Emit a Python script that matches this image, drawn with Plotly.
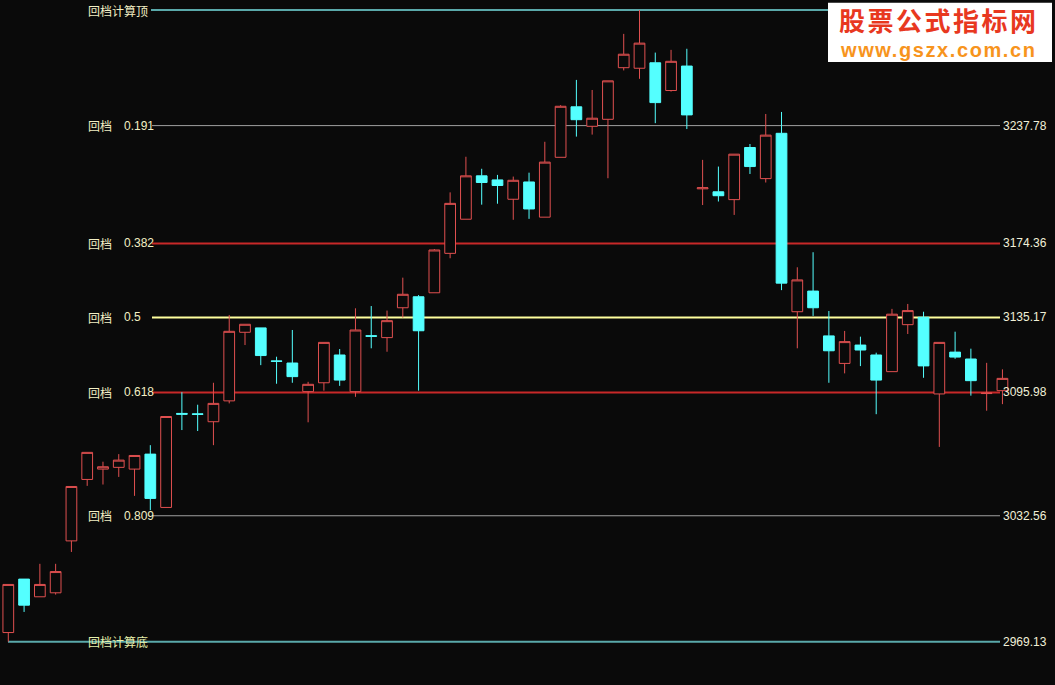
import math
import plotly.graph_objects as go

# ---- data ----
opens = [2973.7, 3000.5, 2991.6, 2993.6, 3019.8, 3051.1, 3056.4, 3057.3, 3056.4, 3064.1,
         3036.8, 3085.1, 3084.9, 3080.8, 3091.6, 3127.4, 3129.7, 3112.4, 3111.3, 3096.4,
         3101.0, 3115.5, 3096.4, 3125.6, 3124.6, 3140.3, 3146.1, 3148.2, 3169.1, 3187.3,
         3210.6, 3208.4, 3198.0, 3207.3, 3188.4, 3220.6, 3248.0, 3237.4, 3241.2, 3269.4,
         3269.1, 3272.1, 3256.9, 3270.3, 3203.6, 3202.0, 3197.8, 3225.9, 3209.1, 3233.6,
         3138.2, 3149.1, 3125.5, 3111.1, 3120.7, 3115.5, 3106.8, 3131.4, 3135.3, 3095.2,
         3117.0, 3113.4, 3095.4, 3096.9]
highs = [2997.8, 3000.5, 3008.2, 3008.2, 3047.5, 3065.0, 3060.2, 3064.1, 3063.4, 3068.7,
         3083.5, 3096.1, 3089.6, 3101.0, 3136.5, 3131.6, 3129.7, 3114.6, 3128.6, 3101.5,
         3122.1, 3118.6, 3140.0, 3141.2, 3138.8, 3156.2, 3147.0, 3171.4, 3201.7, 3220.9,
         3214.4, 3211.1, 3210.2, 3212.3, 3229.0, 3248.9, 3262.7, 3257.2, 3262.2, 3288.0,
         3301.21, 3277.7, 3279.2, 3279.8, 3219.2, 3215.6, 3222.3, 3227.8, 3244.1, 3245.2,
         3161.7, 3169.7, 3138.6, 3128.1, 3125.1, 3116.7, 3139.7, 3142.3, 3138.2, 3122.1,
         3127.7, 3118.8, 3111.4, 3108.0]
lows = [2969.13, 2984.0, 2991.6, 2992.7, 3014.2, 3047.8, 3048.5, 3052.4, 3042.7, 3035.4,
        3036.8, 3076.5, 3076.0, 3068.7, 3090.3, 3120.7, 3110.2, 3100.5, 3101.0, 3080.5,
        3096.9, 3099.4, 3093.7, 3119.0, 3117.2, 3135.1, 3096.9, 3148.2, 3166.5, 3187.3,
        3195.1, 3195.6, 3187.0, 3187.5, 3188.4, 3220.6, 3231.8, 3232.9, 3209.3, 3267.9,
        3263.3, 3239.1, 3256.3, 3235.9, 3194.9, 3196.8, 3189.6, 3211.6, 3207.0, 3149.6,
        3119.0, 3136.0, 3101.0, 3105.9, 3109.7, 3084.7, 3106.8, 3126.5, 3103.6, 3067.8,
        3113.5, 3094.3, 3086.5, 3089.9]
closes = [2997.8, 2987.4, 2997.8, 3004.3, 3047.5, 3065.0, 3057.6, 3061.0, 3063.4, 3041.4,
          3083.5, 3084.7, 3084.6, 3090.3, 3127.9, 3131.6, 3115.2, 3112.2, 3104.2, 3100.2,
          3122.1, 3102.4, 3128.6, 3125.3, 3133.5, 3147.4, 3128.2, 3170.9, 3195.8, 3210.6,
          3207.0, 3205.4, 3208.2, 3192.8, 3218.0, 3248.3, 3241.0, 3241.8, 3262.2, 3276.8,
          3282.9, 3250.3, 3272.9, 3243.6, 3204.2, 3199.9, 3222.3, 3215.6, 3232.6, 3153.3,
          3155.0, 3140.3, 3117.7, 3122.5, 3118.1, 3102.4, 3136.9, 3138.8, 3109.8, 3122.1,
          3114.4, 3102.1, 3095.6, 3103.3]
days = list(range(len(opens)))

calc_top = 3301.21
calc_bottom = 2969.13
ratios = ["0.191", "0.382", "0.5", "0.618", "0.809"]
levels = [3237.78, 3174.36, 3135.17, 3095.98, 3032.56]
level_labels = ["3237.78", "3174.36", "3135.17", "3095.98", "3032.56"]
bottom_label = "2969.13"
watermark_title = "股票公式指标网"
watermark_url = "www.gszx.com.cn"

# ---- styling ----
BG = "#0a0a0a"
RED = "#e05050"
CYAN = "#54ffff"
LABEL = "#f2efc4"
level_colors = ["#a0a0a0", "#c82828", "#ffff9e", "#c82828", "#a0a0a0"]
level_widths = [1, 2, 2, 2, 1]

W, H = 1055, 685
px = lambda v: v / W

fig = go.Figure()
fig.add_trace(go.Candlestick(
    x=days, open=opens, high=highs, low=lows, close=closes,
    increasing=dict(line=dict(color=RED, width=1), fillcolor=BG),
    decreasing=dict(line=dict(color=CYAN, width=1), fillcolor=CYAN),
    whiskerwidth=0, hoverinfo="skip", showlegend=False,
))

shapes = []
annotations = []
cjk = "Noto Sans CJK SC"
num = "Liberation Sans"

# top / bottom lines
shapes.append(dict(type="line", xref="paper", yref="y", x0=px(151), x1=px(1000),
                   y0=calc_top, y1=calc_top, line=dict(color="#5aa9aa", width=2), layer="below"))
shapes.append(dict(type="line", xref="paper", yref="y", x0=px(8), x1=px(1000),
                   y0=calc_bottom, y1=calc_bottom, line=dict(color="#5aa9aa", width=2), layer="below"))
annotations.append(dict(xref="paper", yref="y", x=px(87), y=math.log10(calc_top), text="回档计算顶",
                        xanchor="left", yanchor="middle", showarrow=False, borderpad=0,
                        font=dict(family=cjk, size=12, color=LABEL)))
annotations.append(dict(xref="paper", yref="y", x=px(87), y=math.log10(calc_bottom), text="回档计算底",
                        xanchor="left", yanchor="middle", showarrow=False, borderpad=0,
                        font=dict(family=cjk, size=12, color="#e6f0ac")))
annotations.append(dict(xref="paper", yref="y", x=px(1002), y=math.log10(calc_bottom), text=bottom_label,
                        xanchor="left", yanchor="middle", showarrow=False, borderpad=0,
                        font=dict(family=num, size=12, color="#f0f0d8")))

for r, lv, lab, c, w in zip(ratios, levels, level_labels, level_colors, level_widths):
    shapes.append(dict(type="line", xref="paper", yref="y", x0=px(152), x1=px(1000),
                       y0=lv, y1=lv, line=dict(color=c, width=w), layer="below"))
    annotations.append(dict(xref="paper", yref="y", x=px(87), y=math.log10(lv), text="回档",
                            xanchor="left", yanchor="middle", showarrow=False, borderpad=0,
                            font=dict(family=cjk, size=12, color=LABEL)))
    annotations.append(dict(xref="paper", yref="y", x=px(123), y=math.log10(lv), text=r,
                            xanchor="left", yanchor="middle", showarrow=False, borderpad=0,
                            font=dict(family=num, size=12, color=LABEL)))
    annotations.append(dict(xref="paper", yref="y", x=px(1002), y=math.log10(lv), text=lab,
                            xanchor="left", yanchor="middle", showarrow=False, borderpad=0,
                            font=dict(family=num, size=12, color="#f0f0d8")))

# watermark box with two labels
shapes.append(dict(type="rect", xref="paper", yref="paper", x0=px(828), x1=px(1052),
                   y0=1 - 62 / H, y1=1 - 2.7 / H, fillcolor="white", line=dict(width=0), layer="above"))
annotations.append(dict(xref="paper", yref="paper", x=px(939), y=1 - 20 / H,
                        text=f"<span style='letter-spacing:2.5px'><b>{watermark_title}</b></span>",
                        xanchor="center", yanchor="middle", showarrow=False, borderpad=0,
                        font=dict(family=cjk, size=26, color="#e8381f")))
annotations.append(dict(xref="paper", yref="paper", x=px(938.5), y=1 - 50.5 / H,
                        text=f"<span style='letter-spacing:1.6px'><b>{watermark_url}</b></span>",
                        xanchor="center", yanchor="middle", showarrow=False, borderpad=0,
                        font=dict(family=num, size=20, color="#f7941d")))

ylo = math.log10(calc_top) - (685 - 10) / 5958.4 / math.log(10)
yhi = math.log10(calc_top) + 10 / 5958.4 / math.log(10)

fig.update_layout(
    width=W, height=H, margin=dict(l=0, r=0, t=0, b=0, pad=0),
    paper_bgcolor=BG, plot_bgcolor=BG,
    shapes=shapes, annotations=annotations,
    boxgap=0.32, boxgroupgap=0,
    xaxis=dict(range=[-8.3 / 15.78, (W - 8.3) / 15.78], visible=False, showgrid=False,
               zeroline=False, rangeslider=dict(visible=False), fixedrange=True),
    yaxis=dict(type="log", range=[ylo, yhi], visible=False, showgrid=False, zeroline=False,
               fixedrange=True),
    showlegend=False, hovermode=False,
)
fig.write_html("out.html", config={"displayModeBar": False},
               post_script="document.body.style.margin='0';document.body.style.padding='0';"
                           "document.body.style.background='#0a0a0a';")
